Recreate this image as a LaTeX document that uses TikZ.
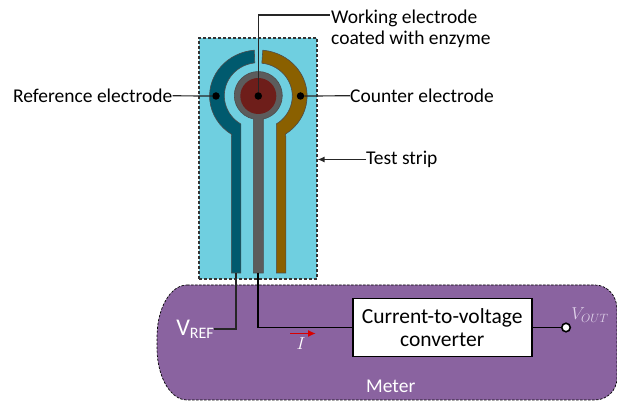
\documentclass[tikz,border=0pt]{standalone}
\usepackage{fontspec}
\usetikzlibrary{arrows.meta}
\setmainfont{Carlito}
\definecolor{stripblue}{RGB}{111,207,224}
\definecolor{refblue}{RGB}{0,90,110}
\definecolor{countbrown}{RGB}{138,96,0}
\definecolor{workgray}{RGB}{92,92,92}
\definecolor{enzymered}{RGB}{110,30,26}
\definecolor{meterpurple}{RGB}{138,99,160}
\definecolor{voutlilac}{RGB}{222,208,232}
\tikzset{
    labeltext/.style={font=\fontsize{19.5}{21}\selectfont,inner sep=0pt,anchor=west,align=left},
    lighttext/.style={labeltext,text=white},
    blackdot/.style={circle,fill=black,inner sep=0pt,minimum size=7.5pt},
    leader/.style={line width=1.2pt,black!85},
    wire/.style={line width=1.6pt,black},
    electrode/.style={draw=black!70,line width=0.6pt}
}
\begin{document}
\begin{tikzpicture}[x=1pt,y=1pt]
                    \useasboundingbox (0,0) rectangle (617,403);
                    \draw[fill=meterpurple,black,dash pattern=on 2.5pt off 1.5pt,line width=0.7pt,fill=meterpurple]
                        (187,118) -- (595,118) arc[start angle=90,end angle=0,x radius=22,y radius=24]
                        -- (617,25) arc[start angle=0,end angle=-90,x radius=22,y radius=22]
                        -- (187,3) arc[start angle=270,end angle=180,x radius=30,y radius=52]
                        -- (157,66) arc[start angle=180,end angle=90,x radius=30,y radius=52];
                    \node[draw=black!80,dash pattern=on 3pt off 2pt,line width=1.1pt,fill=stripblue,minimum width=118pt,minimum height=241pt,inner sep=0pt] (strip) at (258,244.5) {};
                    \begin{scope}[shift={(258.3,307)}]
                        \draw[electrode,fill=refblue]
                            (-4,45.8) arc[start angle=95,end angle=237,x radius=49,y radius=46]
                            -- (-27,-41) -- (-27,-177) -- (-17.5,-177) -- (-17.5,-28)
                            arc[start angle=239,end angle=96,x radius=34,y radius=33] -- cycle;
                        \draw[electrode,fill=countbrown]
                            (4.5,45.8) arc[start angle=84.5,end angle=-56,x radius=49,y radius=46]
                            -- (27.5,-41) -- (27.5,-177) -- (18,-177) -- (18,-28)
                            arc[start angle=-58,end angle=84,x radius=34,y radius=33] -- cycle;
                        \draw[electrode,fill=workgray] (-5,-177) -- (-5,-23) arc[start angle=258,end angle=-78,radius=24] -- (5,-177) -- cycle;
                        \fill[enzymered] (0,0) circle[radius=18];
                    \end{scope}
                    \node[blackdot] (workdot) at (258.3,307) {};
                    \node[blackdot] (refdot) at (216,307) {};
                    \node[blackdot] (countdot) at (300.5,307) {};
                    \coordinate (refstem) at (236,130);
                    \coordinate (workstem) at (258,130);
                    \coordinate (workend) at (330,388);
                    \node[labeltext] (reflabel) at (13,307.5) {Reference electrode};
                    \node[labeltext] (countlabel) at (350,307.5) {Counter electrode};
                    \node[labeltext] (worklabel) at (331,374.5) {Working electrode\\coated with enzyme};
                    \node[labeltext] (testlabel) at (366,243.5) {Test strip};
                    \node[lighttext] (meterlabel) at (366,17) {Meter};
                    \node[labeltext,anchor=center,draw=black,line width=1.6pt,fill=white,align=center,minimum width=179pt,minimum height=58pt,font=\fontsize{21.5}{23.5}\selectfont] (converter) at (442.2,75.5) {Current-to-voltage\\converter};
                    \node[circle,draw=black,line width=1.6pt,fill=white,inner sep=0pt,minimum size=8.5pt] (vout) at (566,75.5) {};
                    \node[text=voutlilac,inner sep=0pt,font=\fontsize{18}{18}\selectfont] (voutlabel) at (590,88) {$V_{OUT}$};
                    \node[lighttext,anchor=east] (vreflabel) at (214,74) {{\fontsize{24}{24}\selectfont V}\raisebox{-3pt}{\fontsize{16}{16}\selectfont REF}};
                    \node[text=white,inner sep=0pt,font=\fontsize{19}{19}\selectfont] (ilabel) at (301,59) {$I$};
                    \coordinate (iarrowa) at (290,69.5);
                    \coordinate (iarrowb) at (316,69.5);
                    \draw[leader] (refdot) -- (reflabel);
                    \draw[leader] (countdot) -- (countlabel);
                    \draw[leader] (workdot) |- (workend);
                    \draw[leader,-{Latex[length=7pt,width=6pt]}] (testlabel) -- (testlabel -| strip.east);
                    \draw[leader] (refstem) |- (vreflabel);
                    \draw[wire] (workstem) |- (converter);
                    \draw[wire] (converter) -- (vout);
                    \draw[red!85!black,line width=1.6pt,-{Latex[length=8pt,width=7pt]}] (iarrowa) -- (iarrowb);
                \end{tikzpicture}
\end{document}
